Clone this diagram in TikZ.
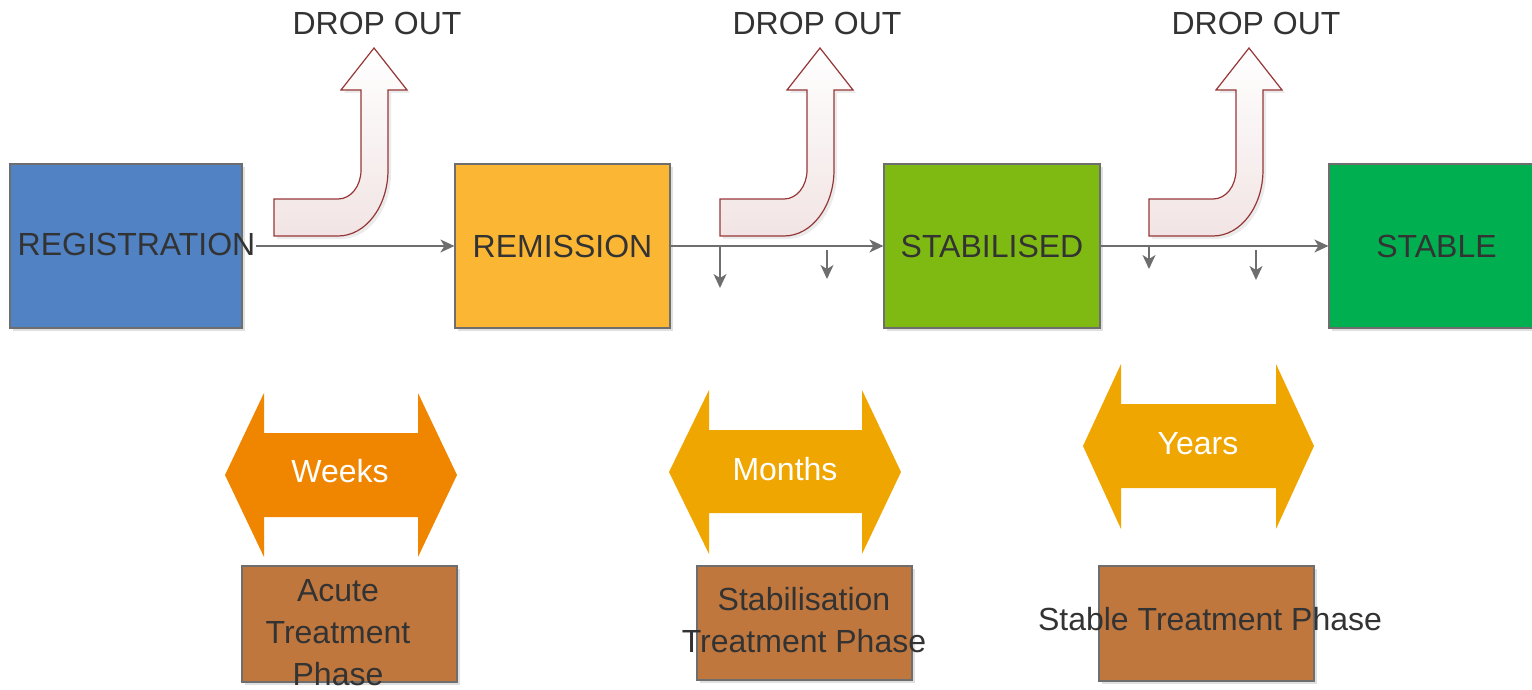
\documentclass[tikz,border=0pt]{standalone}
\usepackage{fontspec}
\setmainfont{Liberation Sans}
\usetikzlibrary{arrows.meta,shadows}

\definecolor{regblue}{RGB}{80,130,196}
\definecolor{remyellow}{RGB}{251,183,52}
\definecolor{stabgreen}{RGB}{127,186,18}
\definecolor{stablegreen}{RGB}{0,176,80}
\definecolor{weeksorange}{RGB}{240,133,0}
\definecolor{spanorange}{RGB}{240,166,0}
\definecolor{phasebrown}{RGB}{192,119,62}
\definecolor{linegrey}{RGB}{110,110,110}
\definecolor{textgrey}{RGB}{51,51,51}
\definecolor{dropline}{RGB}{150,55,55}
\definecolor{dropfill}{RGB}{242,228,228}

% bent arrow leaving the time line, shifted along x
\def\dropout(#1){\path[dropbody, shift={(#1,0)}] (374,48) -- (407,90) -- (388,90) -- (388,170)
  .. controls (388,206) and (366,236) .. (338,236) -- (274,236) -- (274,199) -- (338,199)
  .. controls (351,199) and (361,186) .. (361,170) -- (361,90) -- (341,90) -- cycle;}

\begin{document}
\begin{tikzpicture}[x=1pt, y=-1pt,
    big/.style={font=\fontsize{32}{42}\selectfont},
    stage/.style={draw=linegrey, line width=1.2pt, minimum height=164pt, text=textgrey, big,
      drop shadow={shadow xshift=3pt, shadow yshift=-3pt, fill=black, opacity=0.12}},
    phase/.style={draw=linegrey, line width=1.2pt, fill=phasebrown, minimum width=215pt,
      drop shadow={shadow xshift=3pt, shadow yshift=-3pt, fill=black, opacity=0.12}},
    words/.style={inner sep=0pt, anchor=base, text=textgrey, big, align=center},
    spantext/.style={inner sep=0pt, anchor=base, text=white, big},
    dropbody/.style={draw=dropline, line width=1.2pt, top color=white, bottom color=dropfill,
      drop shadow={shadow xshift=3pt, shadow yshift=-3pt, fill=black, opacity=0.08}},
    flow/.style={draw=linegrey, line width=1.5pt, -{Stealth[length=14pt, width=13pt, inset=4pt]}},
  ]
  \useasboundingbox (0,0) rectangle (1532,690);

  %%%%% drop outs %%%%%
  \dropout(0)
  \dropout(446)
  \dropout(875)
  \node[words] (drop1) at (377,34.5) {DROP OUT};
  \node[words] (drop2) at (817,34.5) {DROP OUT};
  \node[words] (drop3) at (1256,34.5) {DROP OUT};

  %%%%% stages %%%%%
  \node[stage, fill=regblue, minimum width=232pt] (reg) at (126,246) {};
  \node[words] (regtext) at (136.5,255.5) {REGISTRATION};
  \node[stage, fill=remyellow, minimum width=215pt] (rem) at (562.5,246) {REMISSION};
  \node[stage, fill=stabgreen, minimum width=216pt] (stab) at (992,246) {STABILISED};
  \node[stage, fill=stablegreen, minimum width=215pt] (stable) at (1436.5,246) {STABLE};

  \draw[flow] (regtext.east |- rem.west) -- (rem.west);
  \draw[flow] (rem.east) -- (stab.west);
  \draw[flow] (stab.east) -- (stable.west);

  \coordinate (d1) at (720,246);   \coordinate (d1e) at (720,288);
  \coordinate (d2) at (827,250);   \coordinate (d2e) at (827,279);
  \coordinate (d3) at (1149,246);  \coordinate (d3e) at (1149,269);
  \coordinate (d4) at (1256,250);  \coordinate (d4e) at (1256,280);
  \draw[flow] (d1) -- (d1e);
  \draw[flow] (d2) -- (d2e);
  \draw[flow] (d3) -- (d3e);
  \draw[flow] (d4) -- (d4e);

  %%%%% durations %%%%%
  \fill[weeksorange] (225,475) -- (264,393) -- (264,433) -- (418,433) -- (418,393) -- (457,475)
    -- (418,557) -- (418,517) -- (264,517) -- (264,557) -- cycle;
  \node[spantext] (weeks) at (340,482) {Weeks};

  \fill[spanorange] (669,472) -- (709,390) -- (709,430) -- (862,430) -- (862,390) -- (901,472)
    -- (862,554) -- (862,513) -- (709,513) -- (709,554) -- cycle;
  \node[spantext] (months) at (785,480) {Months};

  \fill[spanorange] (1083,446) -- (1121,364) -- (1121,404) -- (1276,404) -- (1276,364) -- (1314,446)
    -- (1276,529) -- (1276,488) -- (1121,488) -- (1121,529) -- cycle;
  \node[spantext] (years) at (1198,454) {Years};

  %%%%% phases %%%%%
  \node[phase, minimum height=116pt] (acute) at (349.5,624) {};
  \node[words] (acutetext) at (338,685) {Acute\\Treatment\\Phase};
  \node[phase, minimum height=114pt] (stabphase) at (804.5,623) {};
  \node[words] (stabphasetext) at (804,652) {Stabilisation\\Treatment Phase};
  \node[phase, minimum height=115pt] (stablephase) at (1206.5,623.5) {};
  \node[words] (stablephasetext) at (1210,630) {Stable Treatment Phase};
\end{tikzpicture}
\end{document}
